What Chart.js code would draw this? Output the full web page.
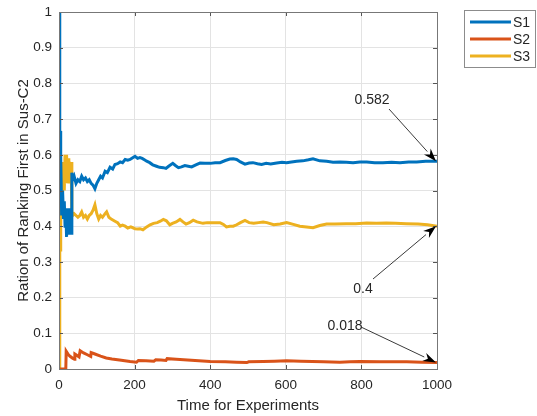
<!DOCTYPE html>
<html>
<head>
<meta charset="utf-8">
<script src="https://cdn.jsdelivr.net/npm/chart.js@4/dist/chart.umd.min.js"></script>
<style>
  html, body { margin: 0; padding: 0; background: #fff; }
  #wrap { width: 537px; height: 416px; position: relative; }
</style>
</head>
<body>
<div id="wrap"><canvas id="chart" width="537" height="416"></canvas></div>
<script>
var s1X = [1, 2, 3, 4, 5, 6, 7, 8, 9, 10, 12, 14, 16, 18, 20, 22, 24, 26, 28, 30, 32, 34, 36, 40, 45, 50, 55, 60, 65, 70, 75, 80, 85, 90, 95, 100, 105, 110, 115, 122, 128, 135, 142, 148, 155, 162, 168, 175, 182, 188, 195, 201, 208, 214, 220, 226, 232, 240, 248, 258, 266, 276, 283, 290, 301, 308, 316, 324, 333, 342, 351, 362, 373, 386, 400, 413, 426, 440, 452, 461, 470, 480, 492, 503, 513, 525, 536, 548, 560, 576, 590, 602, 615, 629, 645, 660, 672, 690, 708, 725, 743, 760, 778, 796, 814, 835, 857, 880, 902, 925, 946, 970, 1000];
var s1Y = [1.0, 0.5, 0.667, 0.5, 0.6, 0.5, 0.43, 0.5, 0.44, 0.5, 0.42, 0.47, 0.40, 0.45, 0.37, 0.44, 0.38, 0.45, 0.40, 0.42, 0.38, 0.55, 0.53, 0.54, 0.52, 0.53, 0.525, 0.54, 0.53, 0.535, 0.525, 0.53, 0.52, 0.515, 0.505, 0.52, 0.53, 0.54, 0.535, 0.554, 0.55, 0.565, 0.56, 0.573, 0.575, 0.58, 0.578, 0.587, 0.585, 0.587, 0.592, 0.596, 0.59, 0.592, 0.59, 0.586, 0.582, 0.578, 0.572, 0.568, 0.565, 0.564, 0.562, 0.568, 0.576, 0.57, 0.564, 0.566, 0.57, 0.568, 0.566, 0.572, 0.577, 0.576, 0.576, 0.578, 0.578, 0.584, 0.588, 0.589, 0.587, 0.58, 0.574, 0.577, 0.578, 0.575, 0.573, 0.576, 0.574, 0.577, 0.579, 0.578, 0.58, 0.582, 0.583, 0.586, 0.589, 0.583, 0.582, 0.579, 0.58, 0.579, 0.578, 0.58, 0.58, 0.578, 0.578, 0.579, 0.578, 0.58, 0.58, 0.582, 0.582];

var s2X = [1, 18, 19, 25, 30, 36, 41, 42, 48, 53, 56, 65, 75, 84, 85, 95, 110, 125, 140, 160, 188, 205, 210, 230, 251, 256, 270, 283, 286, 310, 340, 370, 400, 440, 470, 497, 502, 540, 570, 602, 640, 700, 743, 770, 796, 850, 920, 960, 1000];
var s2Y = [0, 0, 0.05, 0.04, 0.035, 0.03, 0.027, 0.042, 0.038, 0.034, 0.051, 0.045, 0.04, 0.035, 0.046, 0.042, 0.036, 0.031, 0.028, 0.025, 0.021, 0.019, 0.024, 0.023, 0.022, 0.026, 0.025, 0.024, 0.029, 0.027, 0.025, 0.023, 0.021, 0.02, 0.019, 0.018, 0.02, 0.021, 0.022, 0.023, 0.022, 0.02, 0.019, 0.02, 0.021, 0.02, 0.02, 0.019, 0.018];

var s3X = [1, 2, 3, 4, 5, 6, 7, 8, 9, 10, 12, 14, 16, 18, 20, 22, 24, 26, 28, 30, 32, 34, 36, 40, 45, 50, 55, 60, 65, 70, 75, 80, 85, 90, 95, 100, 105, 110, 115, 122, 126, 132, 138, 148, 155, 162, 168, 175, 182, 190, 201, 208, 214, 222, 232, 241, 250, 260, 268, 276, 284, 293, 300, 310, 320, 328, 336, 345, 355, 365, 373, 381, 392, 405, 417, 426, 435, 443, 452, 461, 470, 480, 492, 503, 515, 528, 540, 550, 568, 585, 602, 620, 637, 655, 672, 690, 708, 730, 760, 785, 814, 840, 866, 890, 919, 950, 975, 1000];
var s3Y = [0, 0.5, 0.333, 0.5, 0.4, 0.5, 0.57, 0.5, 0.56, 0.5, 0.58, 0.5, 0.6, 0.52, 0.6, 0.53, 0.59, 0.52, 0.58, 0.54, 0.58, 0.44, 0.43, 0.435, 0.43, 0.425, 0.43, 0.44, 0.425, 0.43, 0.42, 0.43, 0.435, 0.445, 0.46, 0.435, 0.42, 0.43, 0.425, 0.435, 0.44, 0.425, 0.42, 0.414, 0.41, 0.4, 0.403, 0.4, 0.395, 0.398, 0.393, 0.392, 0.393, 0.39, 0.398, 0.404, 0.408, 0.41, 0.414, 0.419, 0.415, 0.404, 0.408, 0.412, 0.419, 0.412, 0.406, 0.41, 0.417, 0.412, 0.41, 0.408, 0.41, 0.41, 0.41, 0.41, 0.405, 0.398, 0.4, 0.4, 0.404, 0.41, 0.416, 0.41, 0.408, 0.41, 0.412, 0.41, 0.404, 0.406, 0.41, 0.405, 0.4, 0.398, 0.396, 0.402, 0.406, 0.406, 0.407, 0.407, 0.409, 0.408, 0.409, 0.408, 0.407, 0.406, 0.404, 0.4];

var seriesNames = ['S1', 'S2', 'S3'];
var seriesColors = ['#0072BD', '#D95319', '#EDB120'];

// end-point labels
var noteLabels = ['0.582', '0.4', '0.018'];
var noteX = [1000, 1000, 1000];
var noteY = [0.582, 0.4, 0.018];

var FONT = '"Liberation Sans", Arial, sans-serif';
var AXIS_COLOR = '#262626';

function toPoints(xs, ys) {
    return xs.map(function (x, i) { return { x: x, y: ys[i] }; });
}

// box, inner ticks, legend and arrows
var decoPlugin = {
    id: 'deco',
    afterDraw: function (chart) {
        var ctx = chart.ctx;
        var a = chart.chartArea;
        var xs = chart.scales.x, ys = chart.scales.y;
        ctx.save();

        // inner tick marks on all four sides
        ctx.strokeStyle = '#555';
        ctx.lineWidth = 1;
        ctx.beginPath();
        xs.ticks.forEach(function (t) {
            var px = Math.round(xs.getPixelForValue(t.value)) + 0.5;
            ctx.moveTo(px, a.bottom); ctx.lineTo(px, a.bottom - 4);
            ctx.moveTo(px, a.top); ctx.lineTo(px, a.top + 4);
        });
        ys.ticks.forEach(function (t) {
            var py = Math.round(ys.getPixelForValue(t.value)) + 0.5;
            ctx.moveTo(a.left, py); ctx.lineTo(a.left + 4, py);
            ctx.moveTo(a.right, py); ctx.lineTo(a.right - 4, py);
        });
        ctx.stroke();

        // axes box
        ctx.strokeStyle = '#777';
        ctx.lineWidth = 1;
        ctx.strokeRect(Math.round(a.left) + 0.5, Math.round(a.top) + 0.5,
            Math.round(a.right - a.left), Math.round(a.bottom - a.top));

        // legend
        var lx = 464, ly = 10, lw = 71, lh = 57;
        ctx.fillStyle = '#fff';
        ctx.fillRect(lx, ly, lw, lh);
        ctx.strokeStyle = '#8c8c8c';
        ctx.strokeRect(lx + 0.5, ly + 0.5, lw, lh);
        ctx.font = '14px ' + FONT;
        ctx.textBaseline = 'middle';
        ctx.textAlign = 'left';
        chart.data.datasets.forEach(function (ds, i) {
            var yy = 22 + i * 17;
            ctx.strokeStyle = ds.borderColor;
            ctx.lineWidth = 3;
            ctx.beginPath();
            ctx.moveTo(470, yy); ctx.lineTo(511, yy);
            ctx.stroke();
            ctx.fillStyle = AXIS_COLOR;
            ctx.fillText(ds.label, 513, yy + 1);
        });

        // arrow annotations: text position, line start
        var textPos = [[372, 100], [363, 289], [345, 326]];
        var lineStart = [[389, 109], [373, 279], [361, 327]];
        ctx.font = '14px ' + FONT;
        ctx.textAlign = 'center';
        ctx.textBaseline = 'middle';
        noteLabels.forEach(function (txt, i) {
            var tx = xs.getPixelForValue(noteX[i]) - 1;
            var ty = ys.getPixelForValue(noteY[i]);
            var sx = lineStart[i][0], sy = lineStart[i][1];
            var ang = Math.atan2(ty - sy, tx - sx);
            var hl = 13, hw = 4.5;
            var bx = tx - hl * Math.cos(ang), by = ty - hl * Math.sin(ang);
            ctx.strokeStyle = '#3a3a3a';
            ctx.lineWidth = 1;
            ctx.beginPath();
            ctx.moveTo(sx, sy); ctx.lineTo(bx, by);
            ctx.stroke();
            ctx.fillStyle = '#000';
            ctx.beginPath();
            ctx.moveTo(tx, ty);
            ctx.lineTo(bx + hw * Math.sin(ang), by - hw * Math.cos(ang));
            ctx.lineTo(tx - (hl - 4) * Math.cos(ang), ty - (hl - 4) * Math.sin(ang));
            ctx.lineTo(bx - hw * Math.sin(ang), by + hw * Math.cos(ang));
            ctx.closePath();
            ctx.fill();
            ctx.fillStyle = AXIS_COLOR;
            ctx.fillText(txt, textPos[i][0], textPos[i][1]);
        });
        ctx.restore();
    }
};

var allX = [s1X, s2X, s3X];
var allY = [s1Y, s2Y, s3Y];

var ctx = document.getElementById('chart').getContext('2d');
var chart = new Chart(ctx, {
    type: 'line',
    data: {
        datasets: seriesNames.map(function (name, i) {
            return {
                label: name,
                data: toPoints(allX[i], allY[i]),
                borderColor: seriesColors[i],
                backgroundColor: seriesColors[i],
                borderWidth: 3,
                pointRadius: 0,
                tension: 0,
                fill: false
            };
        })
    },
    options: {
        responsive: false,
        animation: false,
        layout: { padding: { left: 15, right: 100, top: 12, bottom: 1 } },
        plugins: {
            legend: { display: false },
            tooltip: { enabled: false }
        },
        scales: {
            x: {
                type: 'linear',
                min: 0,
                max: 1000,
                afterFit: function (s) { s.height = 46; s.paddingLeft = 0; s.paddingRight = 0; },
                ticks: {
                    stepSize: 200,
                    color: AXIS_COLOR,
                    font: { family: FONT, size: 13.5 },
                    padding: 8,
                    maxRotation: 0,
                    callback: function (v) { return String(v); }
                },
                grid: { color: '#e3e3e3', tickLength: 0, drawTicks: false },
                border: { display: false },
                title: {
                    display: true,
                    text: 'Time for Experiments',
                    color: AXIS_COLOR,
                    font: { family: FONT, size: 15 },
                    padding: { top: 0, bottom: 0 }
                }
            },
            y: {
                min: 0,
                max: 1,
                afterFit: function (s) { s.width = 44; s.paddingTop = 0; s.paddingBottom = 0; },
                ticks: {
                    stepSize: 0.1,
                    color: AXIS_COLOR,
                    font: { family: FONT, size: 13.5 },
                    padding: 7,
                    callback: function (v) { return String(Math.round(v * 10) / 10); }
                },
                grid: { color: '#e3e3e3', tickLength: 0, drawTicks: false },
                border: { display: false },
                title: {
                    display: true,
                    text: 'Ration of Ranking First in Sus-C2',
                    color: AXIS_COLOR,
                    font: { family: FONT, size: 15 },
                    padding: { top: 0, bottom: 0 }
                }
            }
        }
    },
    plugins: [decoPlugin]
});
</script>
</body>
</html>
